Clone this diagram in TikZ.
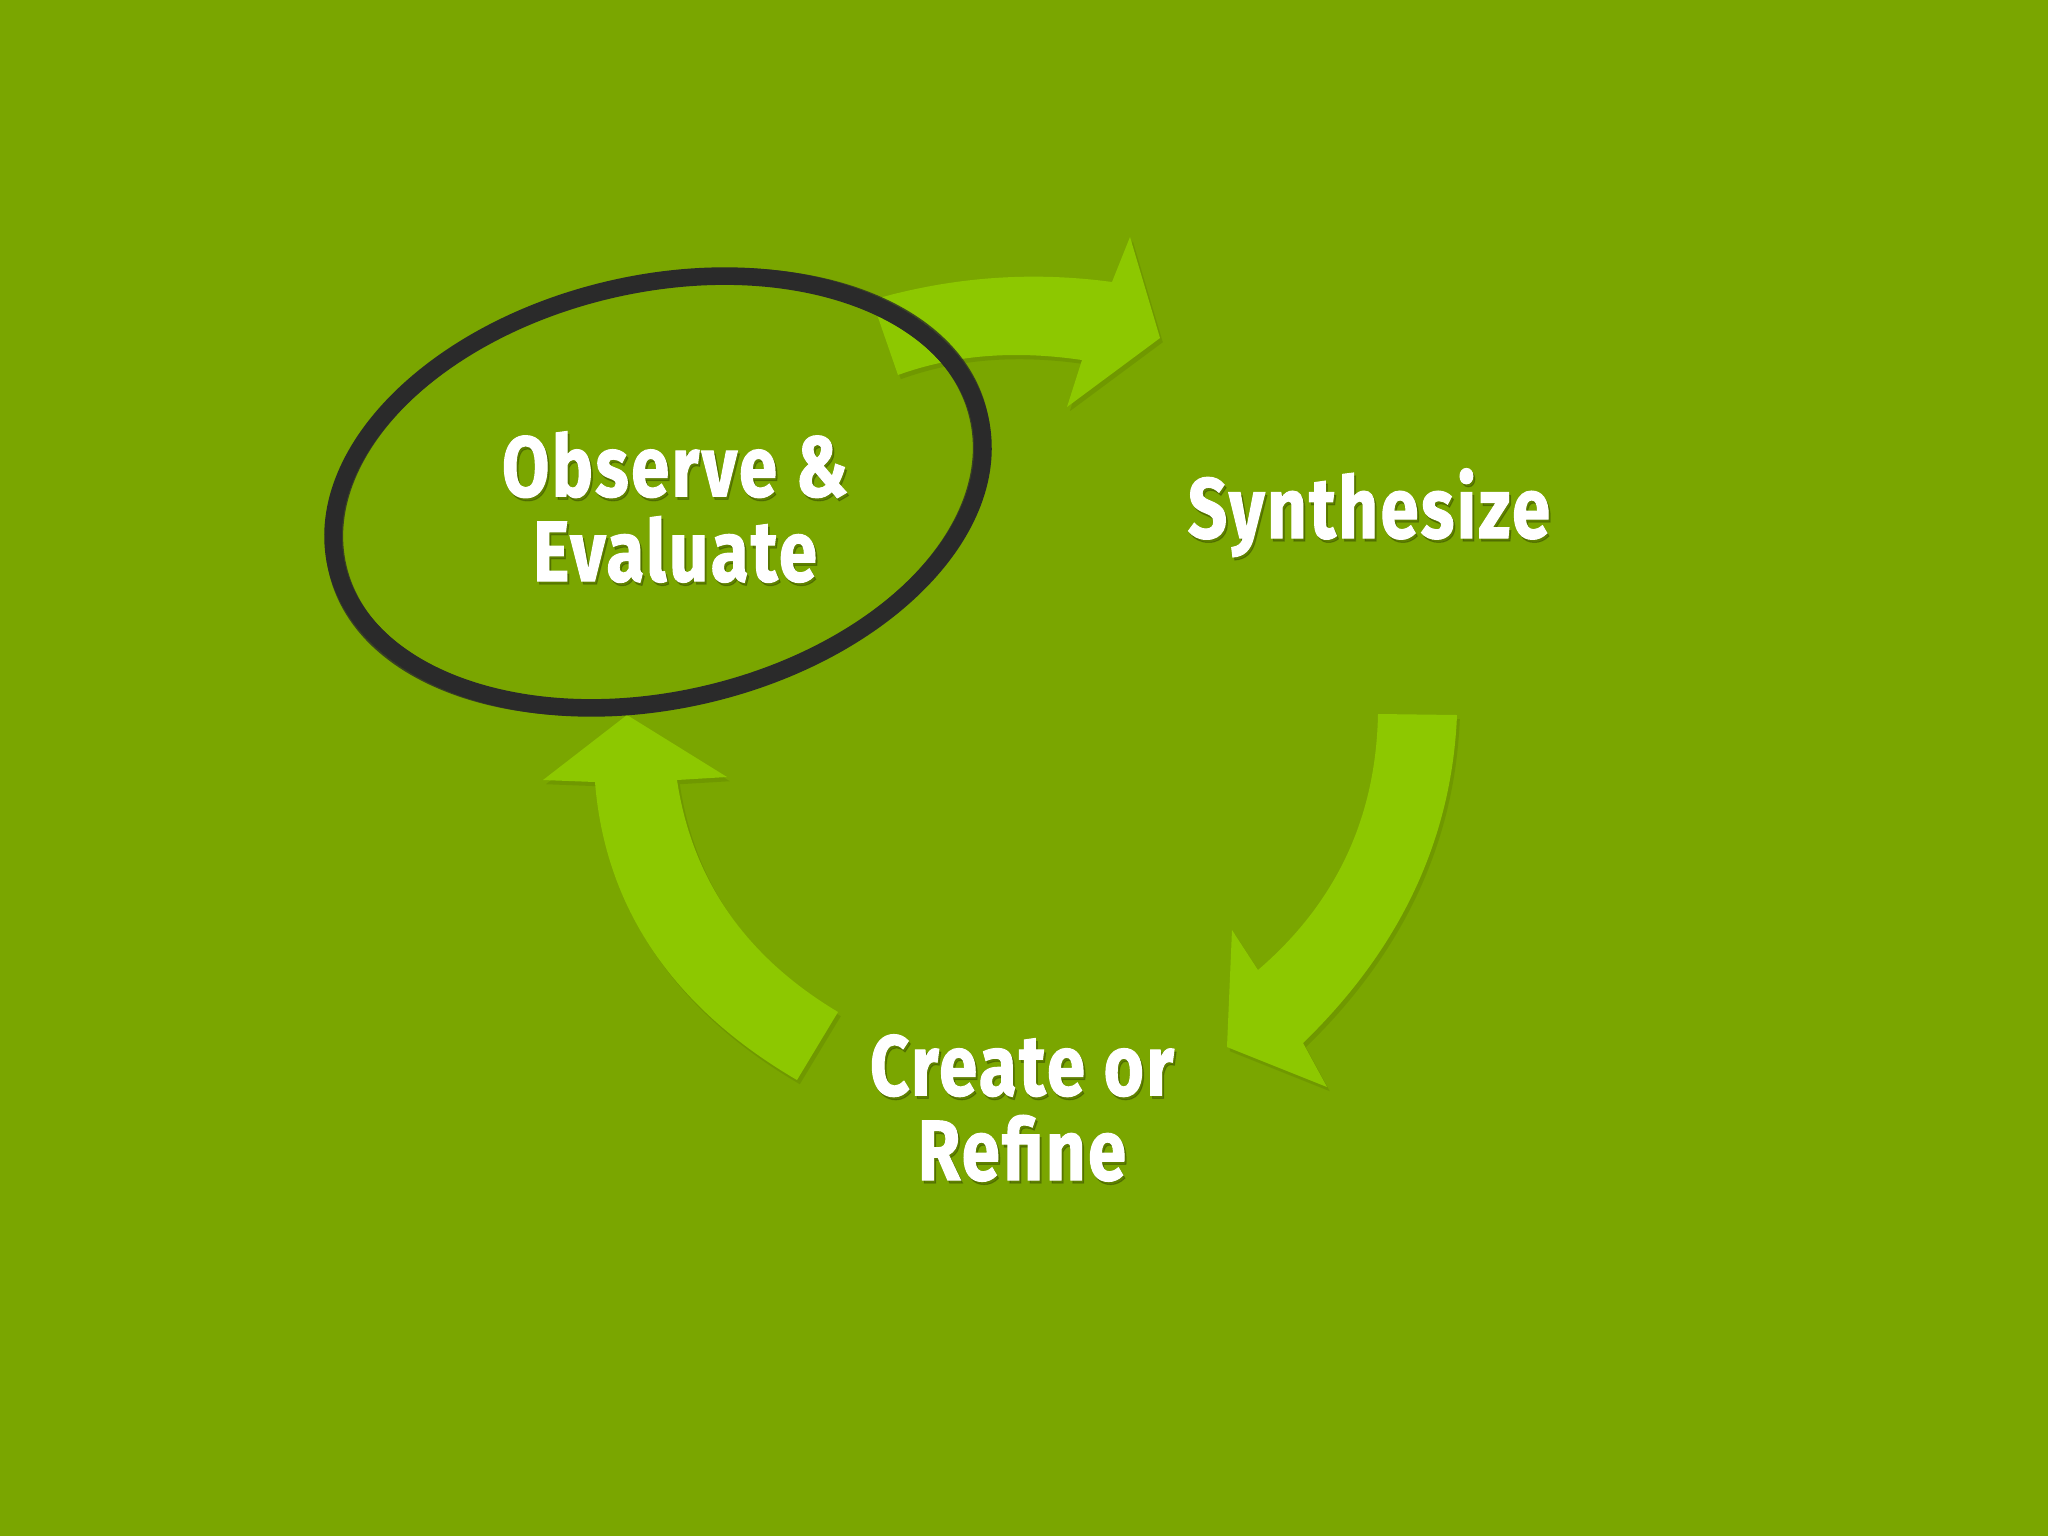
\documentclass[tikz,border=0pt]{standalone}
\usepackage{fontspec}
\setmainfont[FakeStretch=0.80, BoldFeatures={FakeBold=1.2, LetterSpace=3}]{Fira Sans}
\usetikzlibrary{positioning}

\definecolor{bggreen}{HTML}{7AA600}
\definecolor{arrowgreen}{HTML}{8DC800}
\definecolor{brush}{HTML}{2A2A2A}

\begin{document}
\begin{tikzpicture}[
    x=0.01cm, y=-0.01cm,
    cyclearrow/.style={fill=arrowgreen,
        preaction={fill=black, opacity=0.08, transform canvas={shift={(0.8pt,-1.2pt)}}}},
    stagetext/.style={text=white, align=center, inner sep=0pt,
        font=\fontsize{24.4}{24.1}\selectfont\bfseries},
    stageshadow/.style={stagetext, text=black, text opacity=0.22}
]
    % background
    \fill[bggreen] (0,0) rectangle (2048,1536);
    \useasboundingbox (0,0) rectangle (2048,1536);

    % top arrow: observe -> synthesize
    \path[cyclearrow] (872,300) .. controls (951,277) and (1031,271) .. (1112,282)
        -- (1130,237) -- (1160,338) -- (1067,407) -- (1082,360)
        .. controls (1014,350) and (953,355) .. (898,375) -- cycle;

    % right arrow: synthesize -> create
    \path[cyclearrow] (1378,714) -- (1457,715)
        .. controls (1452,838) and (1401,948) .. (1303,1043)
        -- (1327,1087) -- (1227,1047) -- (1232,930) -- (1258,970)
        .. controls (1336,903) and (1376,818) .. (1378,714) -- cycle;

    % left arrow: create -> observe
    \path[cyclearrow] (627,715) -- (727,777) -- (677,780)
        .. controls (692,880) and (746,957) .. (838,1012)
        -- (797,1080) .. controls (672,1007) and (605,907) .. (595,782)
        -- (543,780) -- cycle;

    % brush ellipse round the first stage
    \draw[brush, line width=5pt, shift={(658,492)}, rotate=13]
        (0,0) ellipse [x radius=330, y radius=208];
    \foreach \dr/\dt/\w in {5/0.6/1.2pt, -6/-0.6/1.2pt, 8/1.2/0.5pt, -9/0.4/0.5pt}
        \draw[brush, line width=\w, opacity=0.8, shift={(658,492)}, rotate={13+\dt}]
            (0,0) ellipse [x radius={330+\dr}, y radius={208+0.7*\dr}];

    % stages
    \node[stageshadow] (observeShadow) at (677,510) {Observe \&\\Evaluate};
    \node[stagetext] (observe) at (675,507) {Observe \&\\Evaluate};

    \node[stageshadow, anchor=base] (synthShadow) at (1371,541) {Synthesize};
    \node[stagetext, anchor=base] (synth) at (1369,538) {Synthesize};

    \node[stageshadow] (createShadow) at (1024,1111) {Create or\\Refine};
    \node[stagetext] (create) at (1022,1108) {Create or\\Refine};
\end{tikzpicture}
\end{document}
